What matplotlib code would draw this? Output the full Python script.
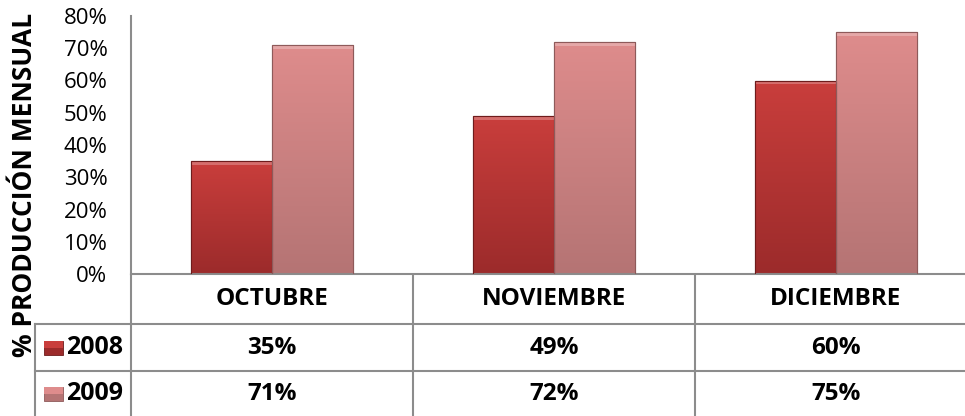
import numpy as np
import matplotlib
matplotlib.use("Agg")
import matplotlib.pyplot as plt
from matplotlib.colors import LinearSegmentedColormap
from matplotlib.patches import Rectangle
from matplotlib.lines import Line2D

plt.rcParams['font.family'] = ['Open Sans', 'DejaVu Sans']

months = ["OCTUBRE", "NOVIEMBRE", "DICIEMBRE"]
series_names = ["2008", "2009"]
values_2008 = [0.35, 0.49, 0.60]
values_2009 = [0.71, 0.72, 0.75]
yticks = [0.0, 0.1, 0.2, 0.3, 0.4, 0.5, 0.6, 0.7, 0.8]
ylabel = "% PRODUCCIÓN MENSUAL"

colors = {
    "2008": ("#c93e3c", "#9c2b2b", "#6e1c1c"),
    "2009": ("#de8c8c", "#b57474", "#8e5a5a"),
}

W, H = 965, 416
fig = plt.figure(figsize=(W / 100, H / 100), dpi=100)

ax_left, ax_top, ax_bottom = 131, 16, 274
cat_px = 282.0
ax = fig.add_axes([ax_left / W, (H - ax_bottom) / H, (W - ax_left) / W, (ax_bottom - ax_top) / H])
xmax = -0.5 + (W - ax_left) / cat_px
ax.set_xlim(-0.5, xmax)
ax.set_ylim(0, 0.8)

x = np.arange(len(months))
bw = 81 / cat_px
grid_c = "#8c8c8c"

for i, (name, vals) in enumerate(zip(series_names, [values_2008, values_2009])):
    top_c, bot_c, edge_c = colors[name]
    cmap = LinearSegmentedColormap.from_list(name, [bot_c, top_c])
    offs = (i - 0.5) * bw
    bars = ax.bar(x + offs, vals, width=bw, color=top_c, edgecolor=edge_c, linewidth=0.8, zorder=2)
    for b in bars:
        x0, y0 = b.get_x(), b.get_y()
        w, h = b.get_width(), b.get_height()
        grad = np.linspace(0, 1, 100).reshape(-1, 1)
        im = ax.imshow(grad, extent=[x0, x0 + w, y0, y0 + h], origin="lower",
                       aspect="auto", cmap=cmap, zorder=2.5)
        im.set_clip_path(b)
        ax.add_patch(Rectangle((x0, y0 + h - 0.012), w, 0.012, facecolor="white",
                               alpha=0.25, edgecolor="none", zorder=3))
        ax.add_patch(Rectangle((x0, y0), w, h, facecolor="none", edgecolor=edge_c,
                               linewidth=0.8, zorder=3.5))

ax.set_xlim(-0.5, xmax)
ax.set_ylim(0, 0.8)
ax.set_yticks(yticks)
ax.set_yticklabels([f"{int(round(t * 100))}%" for t in yticks], fontsize=16)
ax.tick_params(axis="y", length=0, pad=17)
ax.set_xticks([])
for s in ["top", "right"]:
    ax.spines[s].set_visible(False)
ax.spines["left"].set_color(grid_c)
ax.spines["left"].set_linewidth(1.5)
ax.spines["bottom"].set_color(grid_c)
ax.spines["bottom"].set_linewidth(1.5)

fig.text(25 / W, 1 - 185 / H, ylabel, rotation=90, ha="center", va="center",
         fontsize=19, fontweight="bold")

tbl_left = 35
tax = fig.add_axes([0, 0, 1, (H - ax_bottom) / H])
tax.set_xlim(0, W)
tax.set_ylim(H, ax_bottom)
tax.axis("off")

def cx(v):
    return ax_left + (v + 0.5) * cat_px

row_y = [274, 324, 371, 416]
for yy in row_y[1:3]:
    tax.add_line(Line2D([tbl_left, W], [yy, yy], color=grid_c, lw=1.5))
for k in range(len(months)):
    xx = cx(k - 0.5)
    tax.add_line(Line2D([xx, xx], [row_y[0], H], color=grid_c, lw=1.5))
tax.add_line(Line2D([tbl_left, tbl_left], [row_y[1], H], color=grid_c, lw=1.5))

for k, m in enumerate(months):
    tax.text(cx(k), (row_y[0] + row_y[1]) / 2, m, ha="center", va="center",
             fontsize=17.5, fontweight="bold")

for r, (name, vals) in enumerate(zip(series_names, [values_2008, values_2009])):
    yc = (row_y[r + 1] + row_y[r + 2]) / 2
    top_c, bot_c, edge_c = colors[name]
    tax.add_patch(Rectangle((44, yc - 7), 19, 14, facecolor=bot_c, edgecolor=edge_c, lw=0.6))
    tax.add_patch(Rectangle((44, yc - 7), 19, 7, facecolor=top_c, edgecolor="none"))
    tax.text(66, yc, name, ha="left", va="center", fontsize=18, fontweight="bold")
    for k, v in enumerate(vals):
        tax.text(cx(k), yc, f"{int(round(v * 100))}%", ha="center", va="center",
                 fontsize=17.5, fontweight="bold")

fig.savefig("out.png", dpi=100)
